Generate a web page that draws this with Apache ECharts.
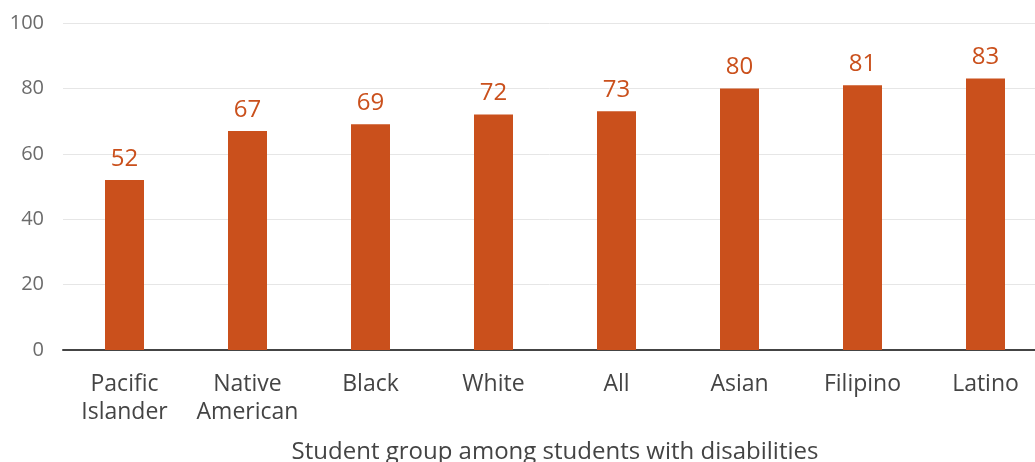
<!DOCTYPE html>
<html>
<head>
<meta charset="utf-8">
<style>
  html, body { margin: 0; padding: 0; background: #ffffff; }
  #chart { width: 1035px; height: 462px; }
</style>
<script src="https://cdn.jsdelivr.net/npm/echarts@6/dist/echarts.min.js"></script>
</head>
<body>
<div id="chart"></div>
<script>
// Student groups (x-axis categories)
const categories = ['Pacific\nIslander', 'Native\nAmerican', 'Black', 'White', 'All', 'Asian', 'Filipino', 'Latino'];
// Rate for each group, percent
const values = [52, 67, 69, 72, 73, 80, 81, 83];
// Y-axis scale
const yMin = 0;
const yMax = 100;
const yStep = 20;

const barColor = '#CA501C';
const fontFamily = '"Open Sans", "Noto Sans", sans-serif';

const chart = echarts.init(document.getElementById('chart'), null, { renderer: 'canvas' });

chart.setOption({
  animation: false,
  grid: {
    left: 63, right: -12, top: 23, bottom: 112,
    containLabel: false,
    outerBoundsMode: 'none'
  },
  xAxis: {
    type: 'category',
    data: categories,
    name: 'Student group among students with disabilities',
    nameLocation: 'middle',
    nameGap: 90,
    nameTextStyle: { color: '#444444', fontSize: 24, fontFamily: fontFamily },
    axisLine: { show: true, lineStyle: { color: '#444444', width: 2 } },
    axisTick: { show: false },
    axisLabel: {
      color: '#444444',
      fontSize: 23,
      fontFamily: fontFamily,
      lineHeight: 28,
      margin: 20,
      interval: 0
    }
  },
  yAxis: {
    type: 'value',
    min: yMin,
    max: yMax,
    interval: yStep,
    axisLine: { show: false },
    axisTick: { show: false },
    splitLine: { lineStyle: { color: '#e6e6e6', width: 1 } },
    axisLabel: {
      color: '#6b6b6b',
      fontSize: 20,
      fontFamily: fontFamily,
      margin: 19
    }
  },
  series: [{
    type: 'bar',
    data: values,
    barWidth: 39,
    itemStyle: { color: barColor },
    label: {
      show: true,
      position: 'top',
      distance: 9,
      color: barColor,
      fontSize: 24,
      fontFamily: fontFamily
    }
  }]
});
</script>
</body>
</html>
